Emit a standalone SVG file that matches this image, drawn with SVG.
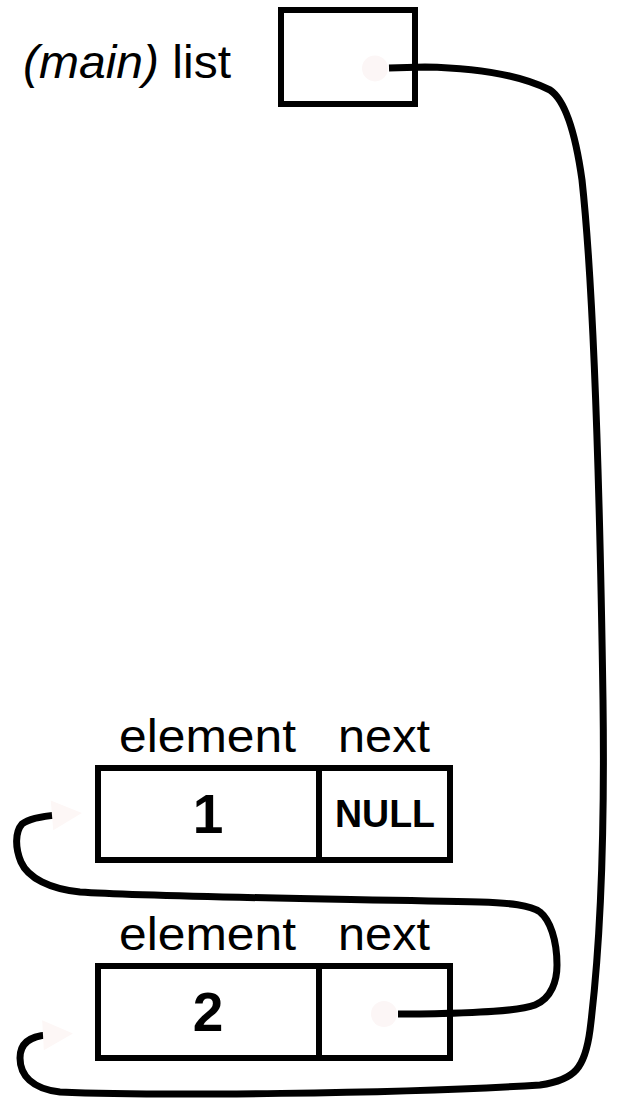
<svg xmlns="http://www.w3.org/2000/svg" width="621" height="1102" viewBox="0 0 621 1102">
<style>
.box{fill:none;stroke:#000;stroke-width:6}
.lbl{font-family:"Liberation Sans",Arial,sans-serif;font-size:46px;fill:#000}
.val{font-family:"Liberation Sans",Arial,sans-serif;font-weight:bold;fill:#000}
.wire{fill:none;stroke:#000;stroke-width:7;stroke-linecap:butt;stroke-linejoin:round}
</style>
<defs>
<marker id="dot" markerUnits="userSpaceOnUse" markerWidth="40" markerHeight="40" refX="20" refY="20" orient="auto" viewBox="0 0 40 40" overflow="visible">
<circle cx="6" cy="20" r="13" fill="#fcf6f6"/>
</marker>
<marker id="head" markerUnits="userSpaceOnUse" markerWidth="40" markerHeight="40" refX="5" refY="20" orient="auto" viewBox="0 0 40 40" overflow="visible">
<path d="M0,5 L30,20 L0,35 Z" fill="#fdf7f6"/>
</marker>
</defs>
<rect width="621" height="1102" fill="#fff"/>
<g id="main-list">
<text class="lbl" x="23" y="78" font-size="47" textLength="208" lengthAdjust="spacingAndGlyphs"><tspan font-style="italic">(main)</tspan> list</text>
<rect class="box" x="281" y="10" width="134" height="94"/>
</g>
<g id="node1">
<text class="lbl" x="119" y="752" textLength="177" lengthAdjust="spacingAndGlyphs">element</text>
<text class="lbl" x="338" y="752" textLength="92" lengthAdjust="spacingAndGlyphs">next</text>
<rect class="box" x="98" y="768" width="352" height="92"/>
<line class="box" x1="319" y1="768" x2="319" y2="860"/>
<text class="val" x="208" y="833" font-size="55" text-anchor="middle">1</text>
<text class="val" x="385" y="827" font-size="38" text-anchor="middle" textLength="100" lengthAdjust="spacingAndGlyphs">NULL</text>
</g>
<g id="node2">
<text class="lbl" x="119" y="950" textLength="177" lengthAdjust="spacingAndGlyphs">element</text>
<text class="lbl" x="338" y="950" textLength="92" lengthAdjust="spacingAndGlyphs">next</text>
<rect class="box" x="98" y="966" width="352" height="92"/>
<line class="box" x1="319" y1="966" x2="319" y2="1058"/>
<text class="val" x="208" y="1031" font-size="55" text-anchor="middle">2</text>
</g>
<g id="connectors">
<path class="wire" marker-start="url(#dot)" marker-end="url(#head)" d="M389,68 L425,67 C480,68 522,76 550,90 C565,100 575,130 582,180 C595,300 600,500 603,700 C605,850 600,950 590,1030 C585,1068 575,1080 540,1085 C400,1094 150,1096 60,1092 C32,1089 20,1075 20,1058 C20,1043 30,1036 48,1035"/>
<path class="wire" marker-start="url(#dot)" marker-end="url(#head)" d="M398,1014 L420,1014 C480,1013 520,1011 535,1005 C552,998 557,980 557,965 C557,940 550,920 540,912 C530,905 510,903 480,902 C350,899 150,897 80,892 C50,889 28,878 21,862 C15,848 15,832 22,824 C30,818 45,816 57,815"/>
</g>
</svg>
